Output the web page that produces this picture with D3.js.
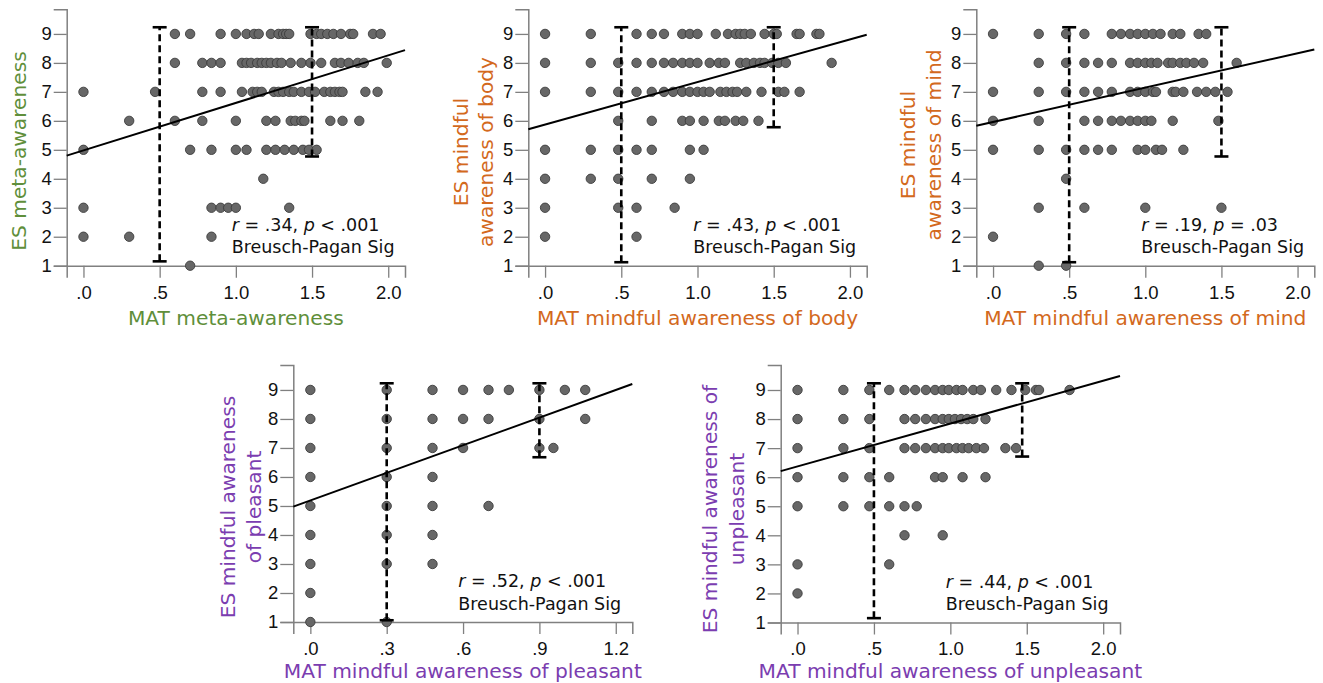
<!DOCTYPE html>
<html>
<head>
<meta charset="utf-8">
<script src="https://cdn.jsdelivr.net/npm/d3@7"></script>
<style>
  body { margin: 0; background: #fff; }
  svg { display: block; }
</style>
</head>
<body>
<div id="svgcontainer"></div>
<script>
// --- --- Data --- ---
// Each panel: rows of [ES value, [MAT values of the points in that row]]

var meta_points = [
    [9, [0.60, 0.70, 0.90, 1.00, 1.07, 1.12, 1.15, 1.23, 1.28, 1.31, 1.33, 1.35, 1.49, 1.53, 1.56, 1.60, 1.64, 1.69, 1.75, 1.77, 1.90, 1.95]],
    [8, [0.60, 0.78, 0.84, 0.90, 1.04, 1.07, 1.10, 1.14, 1.17, 1.20, 1.23, 1.27, 1.30, 1.36, 1.43, 1.49, 1.56, 1.65, 1.69, 1.74, 1.80, 1.84, 1.99]],
    [7, [0.00, 0.47, 0.78, 0.90, 1.04, 1.11, 1.14, 1.17, 1.25, 1.28, 1.31, 1.35, 1.38, 1.43, 1.48, 1.52, 1.58, 1.62, 1.65, 1.68, 1.70, 1.85, 1.93]],
    [6, [0.30, 0.60, 0.78, 1.00, 1.20, 1.26, 1.36, 1.39, 1.43, 1.45, 1.62, 1.70, 1.81]],
    [5, [0.00, 0.70, 0.84, 1.00, 1.07, 1.20, 1.26, 1.32, 1.38, 1.44, 1.48, 1.53]],
    [4, [1.18]],
    [3, [0.00, 0.84, 0.90, 0.95, 1.00, 1.35]],
    [2, [0.00, 0.30, 0.84]],
    [1, [0.70]]
];

var body_points = [
    [9, [0.00, 0.30, 0.60, 0.70, 0.78, 0.90, 0.95, 1.00, 1.12, 1.20, 1.25, 1.28, 1.31, 1.35, 1.44, 1.50, 1.52, 1.65, 1.67, 1.78, 1.80]],
    [8, [0.00, 0.30, 0.48, 0.60, 0.70, 0.78, 0.84, 0.90, 0.95, 1.00, 1.08, 1.14, 1.18, 1.28, 1.32, 1.37, 1.41, 1.44, 1.49, 1.53, 1.58, 1.88]],
    [7, [0.00, 0.30, 0.48, 0.60, 0.70, 0.78, 0.84, 0.90, 0.95, 1.00, 1.04, 1.08, 1.15, 1.19, 1.23, 1.26, 1.32, 1.42, 1.53, 1.57, 1.67]],
    [6, [0.48, 0.70, 0.90, 0.95, 1.04, 1.14, 1.18, 1.25, 1.30, 1.40]],
    [5, [0.00, 0.30, 0.48, 0.60, 0.70, 0.95, 1.04]],
    [4, [0.00, 0.30, 0.48, 0.70, 0.95]],
    [3, [0.00, 0.48, 0.60, 0.85]],
    [2, [0.00, 0.60]]
];

var mind_points = [
    [9, [0.00, 0.30, 0.48, 0.60, 0.78, 0.84, 0.90, 0.95, 1.00, 1.05, 1.10, 1.18, 1.23, 1.35, 1.40]],
    [8, [0.30, 0.48, 0.60, 0.69, 0.78, 0.90, 0.95, 1.00, 1.04, 1.08, 1.15, 1.18, 1.23, 1.27, 1.32, 1.38, 1.60]],
    [7, [0.00, 0.30, 0.48, 0.60, 0.69, 0.78, 0.90, 0.95, 1.00, 1.05, 1.07, 1.18, 1.20, 1.25, 1.34, 1.40, 1.46, 1.54]],
    [6, [0.00, 0.30, 0.60, 0.69, 0.78, 0.84, 0.90, 0.95, 1.00, 1.04, 1.18, 1.48]],
    [5, [0.00, 0.30, 0.48, 0.60, 0.69, 0.78, 0.95, 1.00, 1.07, 1.11, 1.25]],
    [4, [0.48]],
    [3, [0.30, 0.60, 1.00, 1.50]],
    [2, [0.00]],
    [1, [0.30, 0.48]]
];

var pleasant_points = [
    [9, [0.00, 0.30, 0.48, 0.60, 0.70, 0.78, 0.90, 1.00, 1.08]],
    [8, [0.00, 0.30, 0.48, 0.60, 0.70, 0.90, 1.08]],
    [7, [0.00, 0.30, 0.48, 0.60, 0.90, 0.955]],
    [6, [0.00, 0.30, 0.48]],
    [5, [0.00, 0.30, 0.48, 0.70]],
    [4, [0.00, 0.30, 0.48]],
    [3, [0.00, 0.30, 0.48]],
    [2, [0.00]],
    [1, [0.00, 0.30]]
];

var unpleasant_points = [
    [9, [0.00, 0.30, 0.47, 0.60, 0.70, 0.77, 0.84, 0.90, 0.95, 0.99, 1.04, 1.08, 1.15, 1.20, 1.30, 1.40, 1.49, 1.56, 1.58, 1.78]],
    [8, [0.00, 0.30, 0.47, 0.70, 0.77, 0.84, 0.90, 0.95, 0.99, 1.03, 1.07, 1.11, 1.15, 1.23]],
    [7, [0.00, 0.30, 0.47, 0.70, 0.77, 0.84, 0.90, 0.95, 0.99, 1.04, 1.08, 1.12, 1.17, 1.22, 1.36, 1.43]],
    [6, [0.00, 0.30, 0.47, 0.60, 0.90, 0.95, 1.08, 1.23]],
    [5, [0.00, 0.30, 0.47, 0.60, 0.70, 0.78]],
    [4, [0.70, 0.95]],
    [3, [0.00, 0.60]],
    [2, [0.00]]
];

// Fit lines: [intercept, slope]
var meta_fit = [4.98, 1.64];
var body_fit = [5.87, 1.47];
var mind_fit = [5.96, 1.185];
var pleasant_fit = [5.19, 3.175];
var unpleasant_fit = [6.37, 1.474];

// Range bars: [MAT value, lower ES, upper ES]
var meta_bars = [[0.5, 1.15, 9.23], [1.5, 4.77, 9.23]];
var body_bars = [[0.5, 1.12, 9.23], [1.5, 5.78, 9.23]];
var mind_bars = [[0.5, 1.12, 9.23], [1.5, 4.77, 9.23]];
var pleasant_bars = [[0.3, 1.06, 9.23], [0.9, 6.68, 9.23]];
var unpleasant_bars = [[0.5, 1.15, 9.23], [1.47, 6.71, 9.23]];

// Statistics text
var meta_stats = [".34", "< .001"];
var body_stats = [".43", "< .001"];
var mind_stats = [".19", "= .03"];
var pleasant_stats = [".52", "< .001"];
var unpleasant_stats = [".44", "< .001"];

// Axis tick values
var y_ticks = [1, 2, 3, 4, 5, 6, 7, 8, 9];
var x_ticks_wide = [0, 0.5, 1.0, 1.5, 2.0];
var x_ticks_narrow = [0, 0.3, 0.6, 0.9, 1.2];

// Axis titles
var meta_labels = ["MAT meta-awareness", ["ES meta-awareness"]];
var body_labels = ["MAT mindful awareness of body", ["ES mindful", "awareness of body"]];
var mind_labels = ["MAT mindful awareness of mind", ["ES mindful", "awareness of mind"]];
var pleasant_labels = ["MAT mindful awareness of pleasant", ["ES mindful awareness", "of pleasant"]];
var unpleasant_labels = ["MAT mindful awareness of unpleasant", ["ES mindful awareness of", "unpleasant"]];

// --- --- Layout --- ---
var width = 1323;
var height = 683;

var green = "#5f8f3b";
var orange = "#d3691d";
var purple = "#7b3db0";

var panels = [
    {points: meta_points, fit: meta_fit, bars: meta_bars, stats: meta_stats, labels: meta_labels, ticks: x_ticks_wide,
     color: green, left: 66.7, right: 405, top: 9.3, bottom: 265.7, xdom: [-0.11, 2.11], ytop: 9.85,
     ylab: [[-48], 151], xlabDy: 59, tickDy: 33},
    {points: body_points, fit: body_fit, bars: body_bars, stats: body_stats, labels: body_labels, ticks: x_ticks_wide,
     color: orange, left: 528.3, right: 866.7, top: 9.3, bottom: 265.7, xdom: [-0.11, 2.11], ytop: 9.85,
     ylab: [[-68, -43], 152], xlabDy: 59, tickDy: 33},
    {points: mind_points, fit: mind_fit, bars: mind_bars, stats: mind_stats, labels: mind_labels, ticks: x_ticks_wide,
     color: orange, left: 976.3, right: 1314.3, top: 9.3, bottom: 265.7, xdom: [-0.11, 2.11], ytop: 9.85,
     ylab: [[-69, -43], 145], xlabDy: 59, tickDy: 33},
    {points: pleasant_points, fit: pleasant_fit, bars: pleasant_bars, stats: pleasant_stats, labels: pleasant_labels, ticks: x_ticks_narrow,
     color: purple, left: 293.3, right: 632.3, top: 365, bottom: 622, xdom: [-0.067, 1.265], ytop: 9.86,
     ylab: [[-66, -40], 507], xlabDy: 56, tickDy: 32.5},
    {points: unpleasant_points, fit: unpleasant_fit, bars: unpleasant_bars, stats: unpleasant_stats, labels: unpleasant_labels, ticks: x_ticks_wide,
     color: purple, left: 780.7, right: 1120, top: 365, bottom: 622.5, xdom: [-0.11, 2.11], ytop: 9.86,
     ylab: [[-71, -44], 509], xlabDy: 55.5, tickDy: 32.5}
];

var label_font = "'DejaVu Sans', 'Open Sans', sans-serif";
var tick_font = "'Liberation Sans', Arial, sans-serif";
var axis_color = "#808080";

const svg = d3.select("#svgcontainer").append("svg")
    .attr("width", width).attr("height", height)
    .attr("viewBox", [0, 0, width, height]).attr("id", "svg");

panels.forEach(function(p){ drawPanel(p); });

// --- Draw one scatter panel ---
function drawPanel(p){
    var x = d3.scaleLinear().domain(p.xdom).range([p.left, p.right]);
    var y = d3.scaleLinear().domain([1, p.ytop]).range([p.bottom, p.top]);
    var g = svg.append("g");

    // y axis
    var yAxis = d3.axisLeft(y).tickValues(y_ticks).tickSize(13).tickPadding(2).tickFormat(d3.format("d"));
    var ya = g.append("g").attr("transform", "translate(" + p.left + ",0)").call(yAxis);
    styleAxis(ya);

    // x axis (labels like ".5" and "1.0")
    var fmt = function(v){ var s = d3.format(".1f")(v); return s.indexOf("0.") === 0 ? s.slice(1) : s; };
    var xAxis = d3.axisBottom(x).tickValues(p.ticks).tickSize(12).tickFormat(fmt);
    var xa = g.append("g").attr("transform", "translate(0," + p.bottom + ")").call(xAxis);
    styleAxis(xa);
    xa.selectAll("text").attr("y", p.tickDy).attr("dy", 0);

    // points
    var pts = [];
    p.points.forEach(function(row){
        row[1].forEach(function(v){ pts.push([v, row[0]]); });
    });
    g.selectAll("circle.pt").data(pts).enter().append("circle")
        .attr("class", "pt")
        .attr("cx", function(d){ return x(d[0]); })
        .attr("cy", function(d){ return y(d[1]); })
        .attr("r", 4.7)
        .attr("fill", "#676767")
        .attr("stroke", "#3c3c3c")
        .attr("stroke-width", 0.9);

    // fit line across the plot
    g.append("line")
        .attr("x1", x(p.xdom[0])).attr("y1", y(p.fit[0] + p.fit[1] * p.xdom[0]))
        .attr("x2", x(p.xdom[1])).attr("y2", y(p.fit[0] + p.fit[1] * p.xdom[1]))
        .attr("stroke", "#000").attr("stroke-width", 2);

    // dashed range bars with caps
    p.bars.forEach(function(b){
        g.append("line")
            .attr("x1", x(b[0])).attr("x2", x(b[0]))
            .attr("y1", y(b[1])).attr("y2", y(b[2]))
            .attr("stroke", "#000").attr("stroke-width", 2.6)
            .attr("stroke-dasharray", "7,4");
        [b[1], b[2]].forEach(function(v){
            g.append("line")
                .attr("x1", x(b[0]) - 7).attr("x2", x(b[0]) + 7)
                .attr("y1", y(v)).attr("y2", y(v))
                .attr("stroke", "#000").attr("stroke-width", 2.6);
        });
    });

    // statistics
    var tx = p.left + 165;
    var t1 = g.append("text").attr("x", tx).attr("y", p.bottom - 35)
        .style("font-family", label_font).style("font-size", "17.5px").attr("fill", "#111");
    t1.append("tspan").style("font-style", "italic").text("r");
    t1.append("tspan").text(" = " + p.stats[0] + ", ");
    t1.append("tspan").style("font-style", "italic").text("p");
    t1.append("tspan").text(" " + p.stats[1]);
    g.append("text").attr("x", tx).attr("y", p.bottom - 12.5)
        .style("font-family", label_font).style("font-size", "17.5px").attr("fill", "#111")
        .text("Breusch-Pagan Sig");

    // x title
    g.append("text")
        .attr("x", (p.left + p.right) / 2).attr("y", p.bottom + p.xlabDy)
        .attr("text-anchor", "middle")
        .style("font-family", label_font).style("font-size", "20.2px")
        .attr("fill", p.color).text(p.labels[0]);

    // y title (one or two lines, rotated)
    p.labels[1].forEach(function(line, i){
        var cx = p.left + p.ylab[0][i];
        var cy = p.ylab[1];
        g.append("text")
            .attr("transform", "translate(" + cx + "," + cy + ") rotate(-90)")
            .attr("text-anchor", "middle").attr("dy", "0.36em")
            .style("font-family", label_font).style("font-size", "20.2px")
            .attr("fill", p.color).text(line);
    });
}

function styleAxis(a){
    a.select(".domain").attr("stroke", axis_color).attr("stroke-width", 1.5);
    a.selectAll(".tick line").attr("stroke", axis_color).attr("stroke-width", 1.3);
    a.selectAll("text").style("font-family", tick_font).style("font-size", "18.5px").attr("fill", "#111");
}
</script>
</body>
</html>
